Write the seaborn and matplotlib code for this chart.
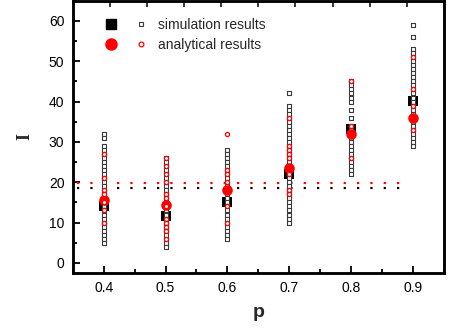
import matplotlib
matplotlib.use('Agg')
import matplotlib.pyplot as plt
from matplotlib.lines import Line2D
from matplotlib.legend_handler import HandlerTuple
from matplotlib.ticker import MultipleLocator
import pandas as pd
import seaborn as sns

P_VALUES = [0.4, 0.5, 0.6, 0.7, 0.8, 0.9]

SIM_MEAN = [14.1, 11.6, 15.1, 22.1, 33.3, 40.2]
ANA_MEAN = [15.6, 14.3, 18.0, 23.5, 32.0, 35.8]

SIM_RUNS = [
    [32, 31, 29, 28, 27, 26, 25, 24, 23, 22, 21, 20, 19, 18, 17, 16, 15,
     14, 13, 12, 11, 10, 9, 8, 7, 6, 5],
    [26, 25, 24, 23, 22, 21, 20, 19, 18, 17, 16, 15, 14, 13, 12, 11, 10,
     9, 8, 7, 6, 5, 4],
    [28, 27, 26, 25, 24, 23, 22, 21, 20, 19, 18, 17, 16, 15, 14, 13, 12,
     11, 10, 9, 8, 7, 6],
    [42, 39, 38, 37, 36, 35, 34, 33, 32, 31, 30, 29, 28, 27, 26, 25, 24,
     23, 22, 21, 20, 19, 18, 17, 16, 15, 14, 13, 12, 11, 10],
    [45, 44, 43, 42, 41, 40, 38, 36, 34, 33, 32, 31, 30, 29, 28, 27, 26,
     25, 24, 23, 22],
    [59, 56, 53, 52, 51, 50, 49, 48, 47, 46, 45, 44, 43, 42, 41, 40, 39,
     38, 37, 36, 35, 34, 33, 32, 31, 30, 29],
]

ANA_RUNS = [
    [27, 21, 18, 17, 15, 13, 10],
    [26, 24, 22, 20, 17, 16, 14, 11, 10, 9, 8, 6],
    [32, 23, 22, 20, 14, 10],
    [36, 29, 28, 27, 26, 22, 18, 17],
    [45, 34, 26],
    [51, 43, 39, 33],
]

SIM_LEVEL = 18.6
ANA_LEVEL = 19.9
LEVEL_SPAN = [0.357, 0.889]


def long_form(runs):
    rows = [(p, v) for p, vals in zip(P_VALUES, runs) for v in vals]
    return pd.DataFrame(rows, columns=['p', 'I'])


def main():
    sns.set_style('ticks')
    plt.rcParams['font.family'] = ['Liberation Sans', 'DejaVu Sans']

    fig = plt.figure(figsize=(4.5, 3.35), dpi=100)
    ax = fig.add_axes([0.1616, 0.185, 0.825, 0.813])

    sim_df = long_form(SIM_RUNS)
    ana_df = long_form(ANA_RUNS)
    means = pd.DataFrame({'p': P_VALUES, 'sim': SIM_MEAN, 'ana': ANA_MEAN})

    ax.plot(LEVEL_SPAN, [SIM_LEVEL] * 2, color='black', lw=1.6,
            ls=(0, (1, 5)), dash_capstyle='butt', zorder=1)
    ax.plot(LEVEL_SPAN, [ANA_LEVEL] * 2, color='red', lw=1.6,
            ls=(0, (1, 5)), dash_capstyle='butt', zorder=1)

    sns.scatterplot(means, x='p', y='sim', marker='s', s=48, color='black',
                    edgecolor='black', linewidth=0, ax=ax, zorder=2)
    sns.scatterplot(sim_df, x='p', y='I', marker='s', s=8, color='white',
                    edgecolor='#3a3a3a', linewidth=0.8, ax=ax, zorder=3)
    sns.scatterplot(means, x='p', y='ana', marker='o', s=58, color='red',
                    edgecolor='red', linewidth=0, ax=ax, zorder=4)
    sns.scatterplot(ana_df, x='p', y='I', marker='o', s=9, color='white',
                    edgecolor='red', linewidth=0.9, ax=ax, zorder=5)

    ax.set_xlim(0.35, 0.95)
    ax.set_ylim(-2.5, 65)
    ax.set_xticks(P_VALUES)
    ax.set_xticklabels([f'{p:.1f}' for p in P_VALUES])
    ax.xaxis.set_minor_locator(MultipleLocator(0.05))
    ax.set_yticks(range(0, 70, 10))
    ax.yaxis.set_minor_locator(MultipleLocator(5))
    ax.tick_params(which='both', direction='in', width=1.3, labelsize=10,
                   color='black', labelcolor='black', pad=6)
    ax.tick_params(which='major', length=5)
    ax.tick_params(which='minor', length=3)

    top = ax.twiny()
    top.set_xlim(0, 1)
    top.xaxis.set_major_locator(MultipleLocator(0.1))
    top.tick_params(axis='x', direction='in', length=4, width=1.3,
                    labeltop=False)
    top.grid(False)

    for a in (ax, top):
        for spine in a.spines.values():
            spine.set_visible(True)
            spine.set_linewidth(1.8)
            spine.set_color('black')

    ax.set_xlabel('p', fontsize=14, fontweight='bold', labelpad=6)
    ax.set_ylabel('I', fontsize=13, fontweight='bold',
                  family=['Liberation Serif'], labelpad=11)

    big_sq = Line2D([], [], ls='none', marker='s', ms=7, color='black')
    small_sq = Line2D([], [], ls='none', marker='s', ms=3.2, mfc='white',
                      mec='#3a3a3a', mew=0.8)
    big_ci = Line2D([], [], ls='none', marker='o', ms=8, color='red')
    small_ci = Line2D([], [], ls='none', marker='o', ms=3.4, mfc='white',
                      mec='red', mew=0.9)
    ax.legend([(big_sq, small_sq), (big_ci, small_ci)],
              ['simulation results', 'analytical results'],
              handler_map={tuple: HandlerTuple(ndivide=None, pad=1.3)},
              handlelength=3.0, handletextpad=0.85, numpoints=1,
              labelspacing=0.4, frameon=False, fontsize=10,
              loc='upper left', bbox_to_anchor=(0.233, 0.946),
              bbox_transform=fig.transFigure, borderpad=0, borderaxespad=0)

    fig.savefig('out.png', dpi=100)


if __name__ == '__main__':
    main()
